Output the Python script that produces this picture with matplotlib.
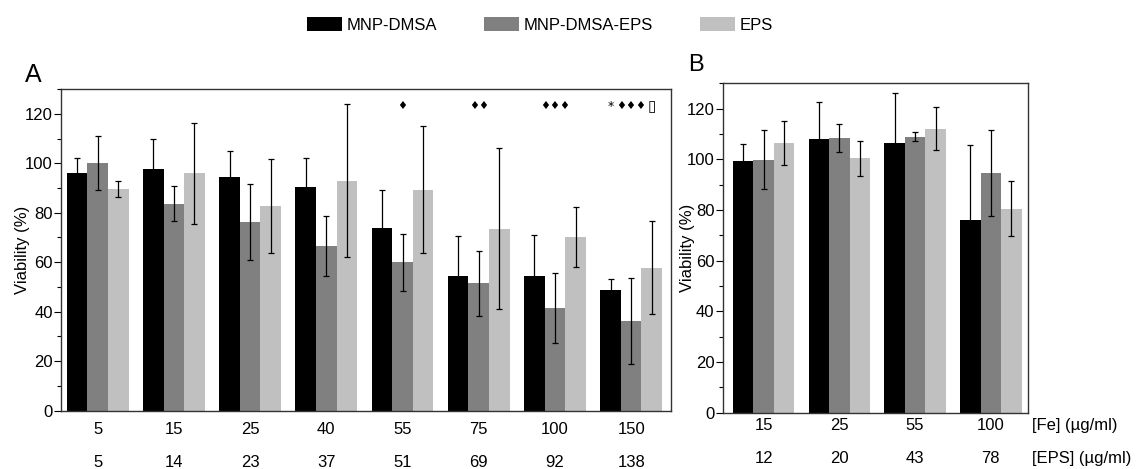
import matplotlib
matplotlib.use('Agg')
import matplotlib.pyplot as plt
import numpy as np
from matplotlib.ticker import MultipleLocator

plt.rcParams['font.family'] = ['Liberation Sans', 'DejaVu Sans']

series = ['MNP-DMSA', 'MNP-DMSA-EPS', 'EPS']
colors = ['#000000', '#808080', '#c0c0c0']

# panel A
fe_a = ['5', '15', '25', '40', '55', '75', '100', '150']
eps_a = ['5', '14', '23', '37', '51', '69', '92', '138']
mean_a = [
    [96, 97.5, 94.6, 90.6, 73.9, 54.6, 54.6, 48.7],
    [100, 83.7, 76.3, 66.6, 59.9, 51.5, 41.4, 36.3],
    [89.7, 96, 82.8, 92.9, 89.3, 73.6, 70.2, 57.8],
]
err_a = [
    [6, 12.5, 10.3, 11.4, 15.2, 15.8, 16.6, 4.6],
    [11, 7, 15.2, 12, 11.4, 13.2, 14.1, 17.5],
    [3.2, 20.4, 18.9, 30.9, 25.6, 32.5, 12, 18.9],
]
# significance marks: (group index, series index, text)
marks_a = [(4, 1, '\u2666'), (5, 1, '\u2666\u2666'), (6, 1, '\u2666\u2666\u2666'),
           (7, 0, '*'), (7, 1, '\u2666\u2666\u2666'), (7, 2, '\u25af')]

# panel B
fe_b = ['15', '25', '55', '100']
eps_b = ['12', '20', '43', '78']
mean_b = [
    [99.5, 108.1, 106.3, 76.1],
    [99.9, 108.5, 108.9, 94.5],
    [106.5, 100.4, 112.1, 80.5],
]
err_b = [
    [6.6, 14.4, 19.8, 29.6],
    [11.5, 5.5, 1.8, 17],
    [8.8, 7, 8.5, 10.8],
]

w = 0.27
fs = 12


def bar_panel(ax, fe, eps, mean, err, row1, row2, xlim, ylab_x):
    x = np.arange(len(fe))
    for j in range(3):
        ax.bar(x + (j - 1) * w, mean[j], w, color=colors[j], label=series[j],
               yerr=err[j], error_kw=dict(ecolor='#000000', elinewidth=0.9,
                                          capsize=2.3, capthick=0.9))
    ax.set_ylim(0, 130)
    ax.set_xlim(*xlim)
    ax.yaxis.set_major_locator(MultipleLocator(20))
    ax.yaxis.set_minor_locator(MultipleLocator(10))
    ax.tick_params(axis='y', which='major', direction='out', length=5,
                   labelsize=fs, width=0.8, pad=1)
    ax.tick_params(axis='y', which='minor', direction='out', length=3, width=0.8)
    ax.set_xticks(x)
    ax.set_xticklabels([])
    ax.tick_params(axis='x', length=0)
    for xi, a, b in zip(x, fe, eps):
        ax.text(xi, row1, a, transform=ax.get_xaxis_transform(),
                ha='center', va='center', fontsize=fs)
        ax.text(xi, row2, b, transform=ax.get_xaxis_transform(),
                ha='center', va='center', fontsize=fs)
    for s in ax.spines.values():
        s.set_color('#333333')
        s.set_linewidth(1.0)
    ax.set_ylabel('Viability (%)', fontsize=fs)
    ax.yaxis.set_label_coords(ylab_x, 0.5)
    return x


fig = plt.figure(figsize=(11.37, 4.69), dpi=100)
axA = fig.add_axes([0.0537, 0.1243, 0.5363, 0.6859])
axB = fig.add_axes([0.6356, 0.1200, 0.2685, 0.7024])

xa = bar_panel(axA, fe_a, eps_a, mean_a, err_a, -0.057, -0.16, (-0.48, 7.52), -0.051)
bar_panel(axB, fe_b, eps_b, mean_b, err_b, -0.04, -0.14, (-0.54, 3.49), -0.09)

for g, j, t in marks_a:
    size = {'*': 9, '\u25af': 11}.get(t, 8)
    axA.text(xa[g] + (j - 1) * w, 123, t, ha='center', va='center',
             fontsize=size, family='DejaVu Sans')

axB.text(1.012, -0.04, '[Fe] (\u00b5g/ml)', transform=axB.transAxes,
         ha='left', va='center', fontsize=fs)
axB.text(1.012, -0.14, '[EPS] (\u00b5g/ml)', transform=axB.transAxes,
         ha='left', va='center', fontsize=fs)

fig.text(0.022, 0.84, 'A', fontsize=18, ha='left', va='center')
fig.text(0.605, 0.862, 'B', fontsize=17, ha='left', va='center')

handles, labels = axA.get_legend_handles_labels()
fig.legend(handles, labels, loc='center', bbox_to_anchor=(0.475, 0.947), ncol=3,
           frameon=False, fontsize=fs, handlelength=2.1, handleheight=0.9,
           handletextpad=0.3, columnspacing=2.8)

plt.savefig('out.png', dpi=100)
